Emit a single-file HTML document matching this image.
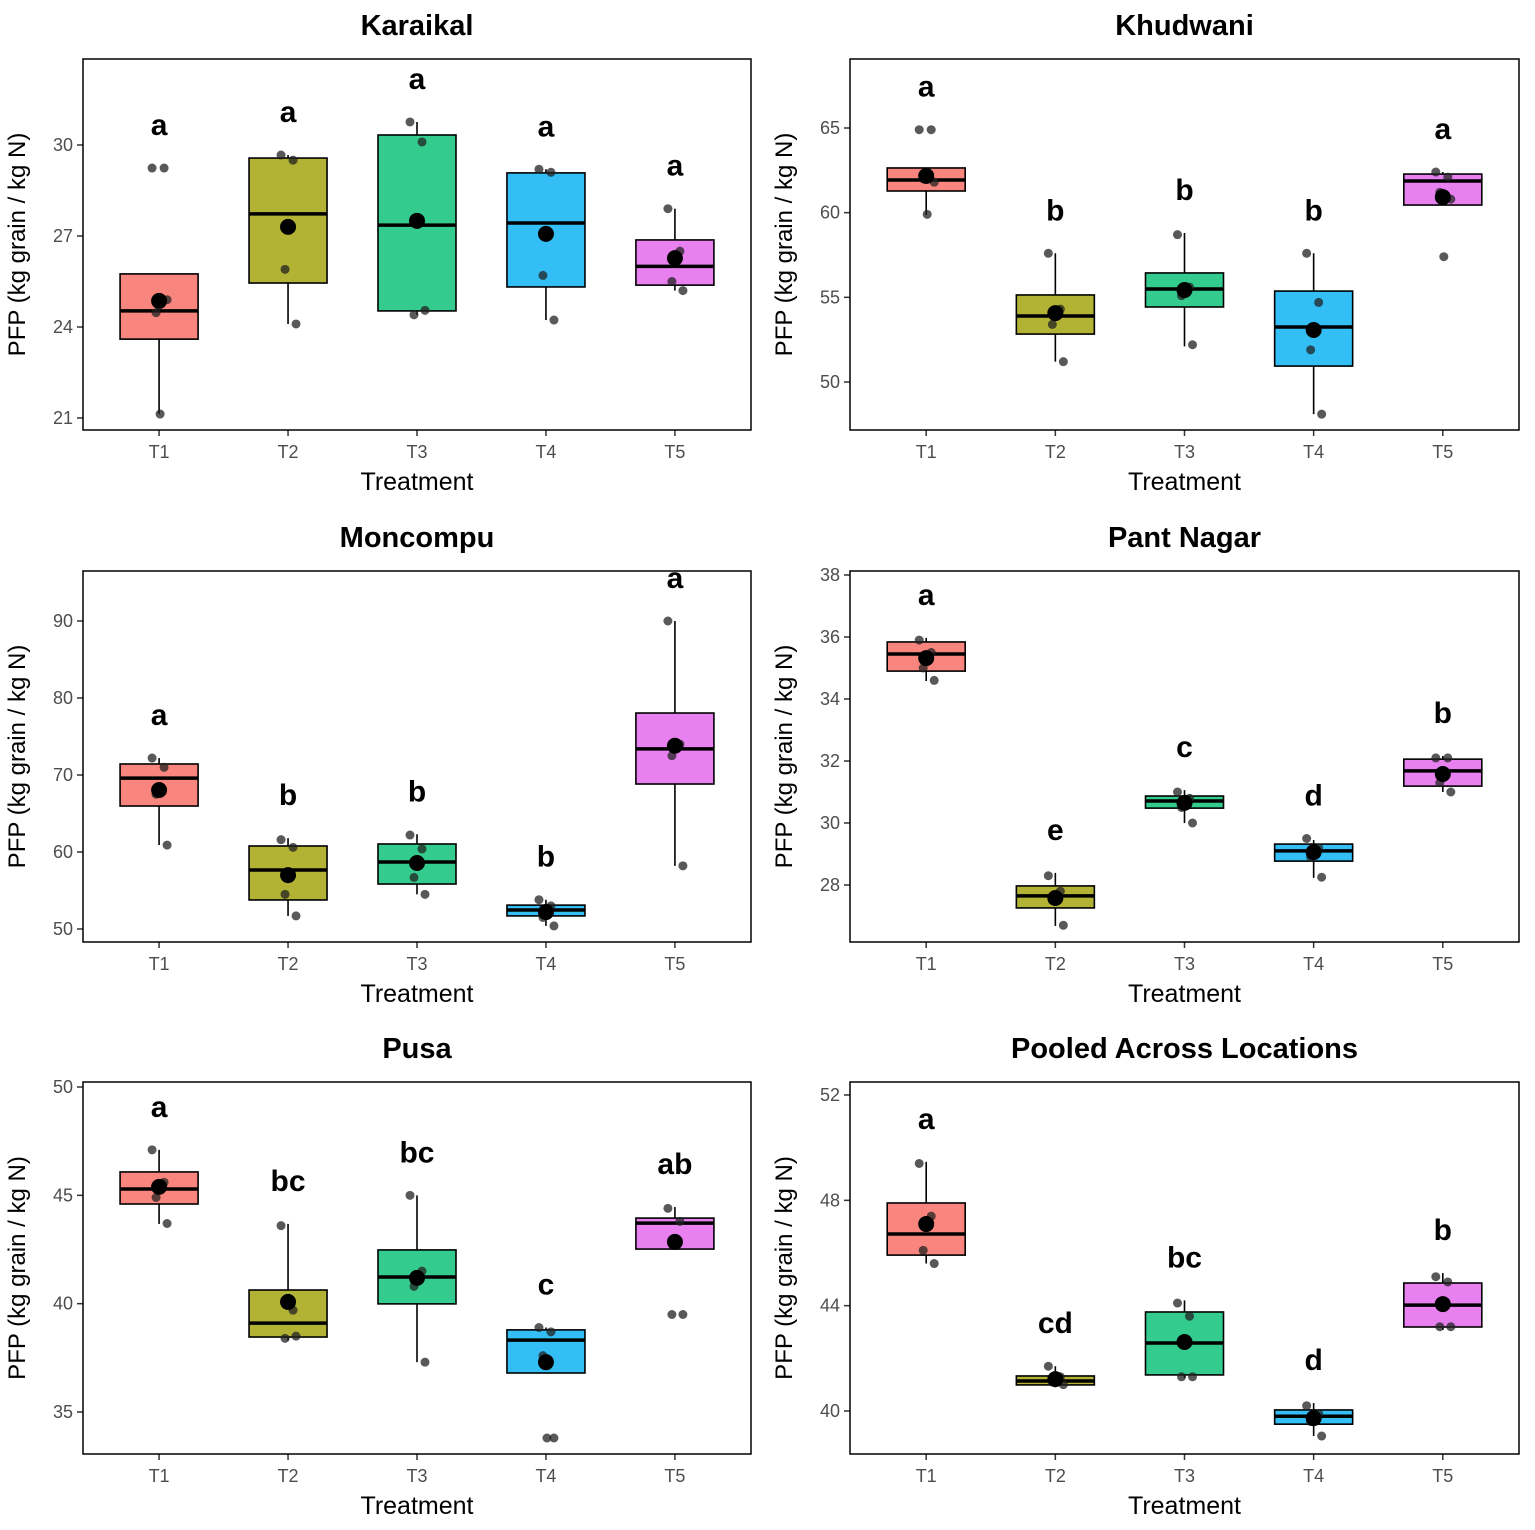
<!DOCTYPE html>
<html><head><meta charset="utf-8">
<style>
html,body{margin:0;padding:0;background:#fff;}
svg{display:block;font-family:"Liberation Sans",Arial,sans-serif;}
</style></head>
<body>
<svg id="chart" width="1535" height="1530" viewBox="0 0 1535 1530" xmlns="http://www.w3.org/2000/svg"></svg>
<script>
const categories = ["T1","T2","T3","T4","T5"];
const colors = ["#F8867E","#B2B234","#34CB8F","#33BEF5","#E880F0"];

// Karaikal
const karTicks=[21,24,27,30];
const karLo=[21.13,24.1,24.4,24.23,25.2], karQ1=[23.6,25.45,24.53,25.32,25.38], karMed=[24.53,27.73,27.36,27.43,26.0], karQ3=[25.75,29.57,30.33,29.08,26.87], karHi=[25.75,29.67,30.76,29.2,27.9];
const karMean=[24.86,27.3,27.5,27.07,26.27];
const karPts=[[29.24,29.24,24.47,24.9,21.13],[29.67,29.5,25.9,24.1,27.3],[30.76,30.1,24.4,24.55],[29.2,29.1,25.7,24.23],[27.9,26.5,25.5,25.2,26.2]];
const karLetters=["a","a","a","a","a"];
// Khudwani
const khuTicks=[50,55,60,65];
const khuLo=[59.86,51.2,52.1,48.1,60.45], khuQ1=[61.28,52.83,54.43,50.94,60.45], khuMed=[61.93,53.9,55.49,53.25,61.87], khuQ3=[62.64,55.14,56.44,55.37,62.28], khuHi=[62.64,57.6,58.8,57.6,62.4];
const khuMean=[62.17,54.07,55.43,53.07,60.92];
const khuPts=[[64.9,64.9,62,61.8,59.9],[57.6,54.3,53.4,51.2],[58.7,55.6,55.1,52.2],[57.6,54.7,51.9,48.1],[62.4,62.1,61.2,60.8,57.4]];
const khuLetters=["a","b","b","b","a"];
// Moncompu
const monTicks=[50,60,70,80,90];
const monLo=[60.9,51.7,54.5,50.4,58.2], monQ1=[65.97,53.77,55.84,51.7,68.83], monMed=[69.6,57.66,58.7,52.47,73.4], monQ3=[71.43,60.78,61.04,53.1,78.05], monHi=[72.2,61.8,62.3,53.8,90];
const monMean=[68.05,57.0,58.57,52.2,73.8];
const monPts=[[72.2,71,67.5,60.9],[61.6,60.6,54.5,51.7],[62.2,60.4,56.7,54.5],[53.8,53,51.5,50.4],[90,74,72.5,58.2]];
const monLetters=["a","b","b","b","a"];
// Pant Nagar
const panTicks=[28,30,32,34,36,38];
const panLo=[34.58,26.68,30.0,28.23,31.0], panQ1=[34.9,27.26,30.48,28.77,31.19], panMed=[35.45,27.65,30.71,29.1,31.68], panQ3=[35.84,27.97,30.87,29.32,32.06], panHi=[35.97,28.39,31.06,29.45,32.16];
const panMean=[35.32,27.58,30.65,29.06,31.58];
const panPts=[[35.9,35.5,35.0,34.6],[28.3,27.8,27.5,26.7],[31.0,30.8,30.5,30.0],[29.5,29.2,28.9,28.25],[32.1,32.1,31.3,31.0]];
const panLetters=["a","e","c","d","b"];
// Pusa
const pusTicks=[35,40,45,50];
const pusLo=[43.68,38.3,37.3,36.8,42.52], pusQ1=[44.6,38.46,39.99,36.8,42.52], pusMed=[45.29,39.1,41.23,38.32,43.72], pusQ3=[46.08,40.63,42.48,38.79,43.95], pusHi=[47.1,43.68,45.0,38.9,44.46];
const pusMean=[45.39,40.08,41.19,37.3,42.85];
const pusPts=[[47.1,45.6,44.9,43.7],[43.6,39.7,38.4,38.5],[45.0,41.5,40.8,37.3],[38.9,38.7,37.6,33.8,33.8],[44.4,43.8,39.5,39.5]];
const pusLetters=["a","bc","bc","c","ab"];
// Pooled
const pooTicks=[40,44,48,52];
const pooLo=[45.6,40.9,41.25,39.05,43.08], pooQ1=[45.92,40.99,41.37,39.5,43.19], pooMed=[46.72,41.14,42.58,39.8,44.02], pooQ3=[47.9,41.33,43.76,40.04,44.86], pooHi=[49.46,41.7,44.2,40.3,45.24];
const pooMean=[47.1,41.21,42.62,39.73,44.06];
const pooPts=[[49.4,47.4,46.1,45.6],[41.7,41.3,41.1,41.0],[44.1,43.6,41.3,41.3],[40.2,39.9,39.6,39.05],[45.1,44.9,43.2,43.2]];
const pooLetters=["a","cd","bc","d","b"];

const NS="http://www.w3.org/2000/svg";
const svg=document.getElementById('chart');
function mk(tag,attrs,parent){const e=document.createElementNS(NS,tag);for(const k in attrs)e.setAttribute(k,attrs[k]);(parent||svg).appendChild(e);return e;}
const jit=[-7,5,-3,8,1];

function panel(cfg){
  const g=mk('g',{});
  
  
  const x0=cfg.x0,x1=cfg.x1,y0=cfg.y0,y1=cfg.y1;
  const ys=v=>cfg.yA+(v-cfg.vA)*(cfg.yB-cfg.yA)/(cfg.vB-cfg.vA);
  const step=(x1-x0)/5.18, cx0=x0+(x1-x0)/2-2*step;
  const xs=i=>cx0+i*step;
  const t=mk('text',{x:(x0+x1)/2,y:y0-24,'text-anchor':'middle','font-size':29,'font-weight':'bold',fill:'#000'},g);
  t.textContent=cfg.title;
  
  
  cfg.ticks.forEach(v=>{
    const y=ys(v);
    mk('line',{x1:x0-6,x2:x0,y1:y,y2:y,stroke:'#333','stroke-width':1.5},g);
    const tl=mk('text',{x:x0-10,y:y+6,'text-anchor':'end','font-size':18,fill:'#4D4D4D'},g);
    tl.textContent=v;
    
    
  });
  const yt=mk('text',{transform:`translate(${x0-58},${(y0+y1)/2}) rotate(-90)`,'text-anchor':'middle','font-size':24,fill:'#000'},g);
  yt.textContent='PFP (kg grain / kg N)';
  
  
  categories.forEach((c,i)=>{
    const x=xs(i), w=39;
    mk('line',{x1:x,x2:x,y1:y1,y2:y1+6,stroke:'#333','stroke-width':1.5},g);
    const xl=mk('text',{x:x,y:y1+28,'text-anchor':'middle','font-size':18,fill:'#4D4D4D'},g);
    xl.textContent=c;
    
    
    mk('line',{x1:x,x2:x,y1:ys(cfg.hi[i]),y2:ys(cfg.lo[i]),stroke:'#000','stroke-width':1.6},g);
    const yTop=Math.min(ys(cfg.q3[i]),ys(cfg.q1[i]));
    const hgt=Math.max(1,Math.abs(ys(cfg.q1[i])-ys(cfg.q3[i])));
    const b=mk('rect',{x:x-w,y:yTop,width:2*w,height:hgt,fill:colors[i],stroke:'#000','stroke-width':1.6},g);
    
    
    mk('line',{x1:x-w,x2:x+w,y1:ys(cfg.med[i]),y2:ys(cfg.med[i]),stroke:'#000','stroke-width':3.5},g);
    cfg.pts[i].forEach((v,j)=>{
      const p=mk('circle',{cx:x+jit[j%5],cy:ys(v),r:4.5,fill:'#222','fill-opacity':0.75},g);
      
      
    });
    const m=mk('circle',{cx:x,cy:ys(cfg.mean[i]),r:8,fill:'#000'},g);
    
    
    const top=Math.max(cfg.hi[i],...cfg.pts[i]);
    const lt=mk('text',{x:x,y:ys(top)-33,'text-anchor':'middle','font-size':30,'font-weight':'bold',fill:'#000'},g);
    lt.textContent=cfg.letters[i];
    
    
  });
  const xt=mk('text',{x:(x0+x1)/2,y:y1+60,'text-anchor':'middle','font-size':25,fill:'#000'},g);
  xt.textContent='Treatment';
  
  
  mk('rect',{x:x0,y:y0,width:x1-x0,height:y1-y0,fill:'none',stroke:'#000','stroke-width':1.5},g);
}
const L={x0:83,x1:751}, R={x0:850,x1:1519};
panel({name:'karaikal',title:'Karaikal',...L,y0:59,y1:430,yA:145,vA:30,yB:418,vB:21,ticks:karTicks,lo:karLo,q1:karQ1,med:karMed,q3:karQ3,hi:karHi,mean:karMean,pts:karPts,letters:karLetters});
panel({name:'khudwani',title:'Khudwani',...R,y0:59,y1:430,yA:128,vA:65,yB:382,vB:50,ticks:khuTicks,lo:khuLo,q1:khuQ1,med:khuMed,q3:khuQ3,hi:khuHi,mean:khuMean,pts:khuPts,letters:khuLetters});
panel({name:'moncompu',title:'Moncompu',...L,y0:571,y1:942,yA:621,vA:90,yB:929,vB:50,ticks:monTicks,lo:monLo,q1:monQ1,med:monMed,q3:monQ3,hi:monHi,mean:monMean,pts:monPts,letters:monLetters});
panel({name:'pant-nagar',title:'Pant Nagar',...R,y0:571,y1:942,yA:575,vA:38,yB:885,vB:28,ticks:panTicks,lo:panLo,q1:panQ1,med:panMed,q3:panQ3,hi:panHi,mean:panMean,pts:panPts,letters:panLetters});
panel({name:'pusa',title:'Pusa',...L,y0:1082,y1:1454,yA:1087,vA:50,yB:1412,vB:35,ticks:pusTicks,lo:pusLo,q1:pusQ1,med:pusMed,q3:pusQ3,hi:pusHi,mean:pusMean,pts:pusPts,letters:pusLetters});
panel({name:'pooled',title:'Pooled Across Locations',...R,y0:1082,y1:1454,yA:1095,vA:52,yB:1411,vB:40,ticks:pooTicks,lo:pooLo,q1:pooQ1,med:pooMed,q3:pooQ3,hi:pooHi,mean:pooMean,pts:pooPts,letters:pooLetters});
</script>
</body></html>
